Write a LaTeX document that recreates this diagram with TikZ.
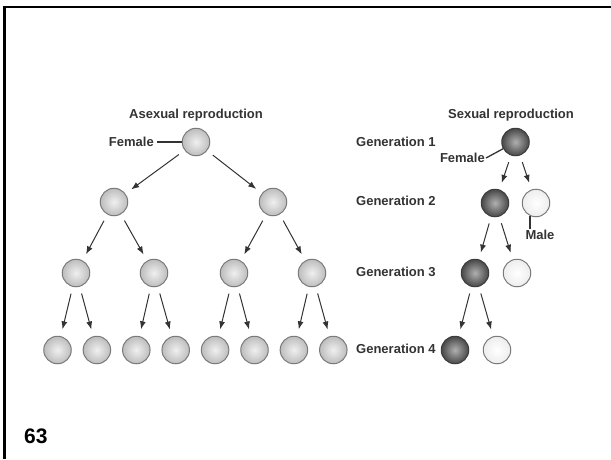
\documentclass[tikz,border=0pt]{standalone}
\usepackage{fontspec}
\setmainfont{Liberation Sans}
\usetikzlibrary{arrows.meta}
\definecolor{txtgray}{HTML}{333333}
\definecolor{rimgray}{HTML}{7A7A7A}
\definecolor{rimdark}{HTML}{3C3C3C}
\begin{document}
\begin{tikzpicture}[x=1pt,y=-1pt,
    lbl/.style={font=\bfseries\fontsize{13}{15}\selectfont,text=txtgray,inner sep=1pt},
    ball/.style={circle,minimum size=27.5pt,inner sep=0pt,line width=1pt},
    agray/.style={ball,draw=rimgray,inner color=gray!12,outer color=gray!52},
    sdark/.style={ball,draw=rimdark,inner color=gray!62,outer color=black!72},
    swhite/.style={ball,draw=rimgray,inner color=white,outer color=gray!14},
    arr/.style={-{Latex[length=8pt,width=6pt]},line width=1pt,txtgray,shorten >=7pt,shorten <=7pt}]
    \useasboundingbox (0,0) rectangle (611,459);
    \draw[line width=2.4pt] (4.5,459) -- (4.5,7) -- (611,7);
    % asexual
    \node[lbl] (atitle) at (196,115) {Asexual reproduction};
    \node[agray] (a1) at (196,142) {};
    \node[lbl,anchor=east] (afem) at (155,142) {Female};
    \draw[line width=1.3pt,txtgray,shorten <=2pt] (afem) -- (a1);
    \foreach \x [count=\i] in {114,273} \node[agray] (a2\i) at (\x,202) {};
    \foreach \x [count=\i] in {76,154,234,312} \node[agray] (a3\i) at (\x,273) {};
    \foreach \i in {1,...,8} \node[agray] (a4\i) at ({57.5+39.4*(\i-1)},350) {};
    \foreach \i in {1,2} \draw[arr] (a1) -- (a2\i);
    \foreach \i/\j in {1/1,1/2,2/3,2/4} \draw[arr] (a2\i) -- (a3\j);
    \foreach \i/\j in {1/1,1/2,2/3,2/4,3/5,3/6,4/7,4/8} \draw[arr] (a3\i) -- (a4\j);
    % sexual
    \node[lbl] (stitle) at (511,115) {Sexual reproduction};
    \foreach \y [count=\i] in {142,201,272,349} \node[lbl,anchor=west] (gen\i) at (355,\y) {Generation \i};
    \node[sdark] (s1) at (515.5,142) {};
    \node[sdark] (s2) at (495,203) {};
    \node[swhite] (m2) at (536,203) {};
    \node[sdark] (s3) at (475,273) {};
    \node[swhite] (m3) at (517,273) {};
    \node[sdark] (s4) at (455,350) {};
    \node[swhite] (m4) at (497,350) {};
    \node[lbl,anchor=east] (sfem) at (486,158) {Female};
    \draw[line width=1.3pt,txtgray] (sfem.east) -- (s1);
    \node[lbl,anchor=north] (smale) at (540,229) {Male};
    \draw[line width=1.3pt,txtgray] (m2.-115) -- (m2.-115 |- smale.north);
    \foreach \i/\j in {1/2,2/3,3/4} {
        \draw[arr] (s\i) -- (s\j);
        \draw[arr] (s\i) -- (m\j);
    }
    \node[font=\bfseries\fontsize{21}{24}\selectfont,anchor=base west,inner sep=0pt] (pnum) at (24,443) {63};
\end{tikzpicture}
\end{document}
